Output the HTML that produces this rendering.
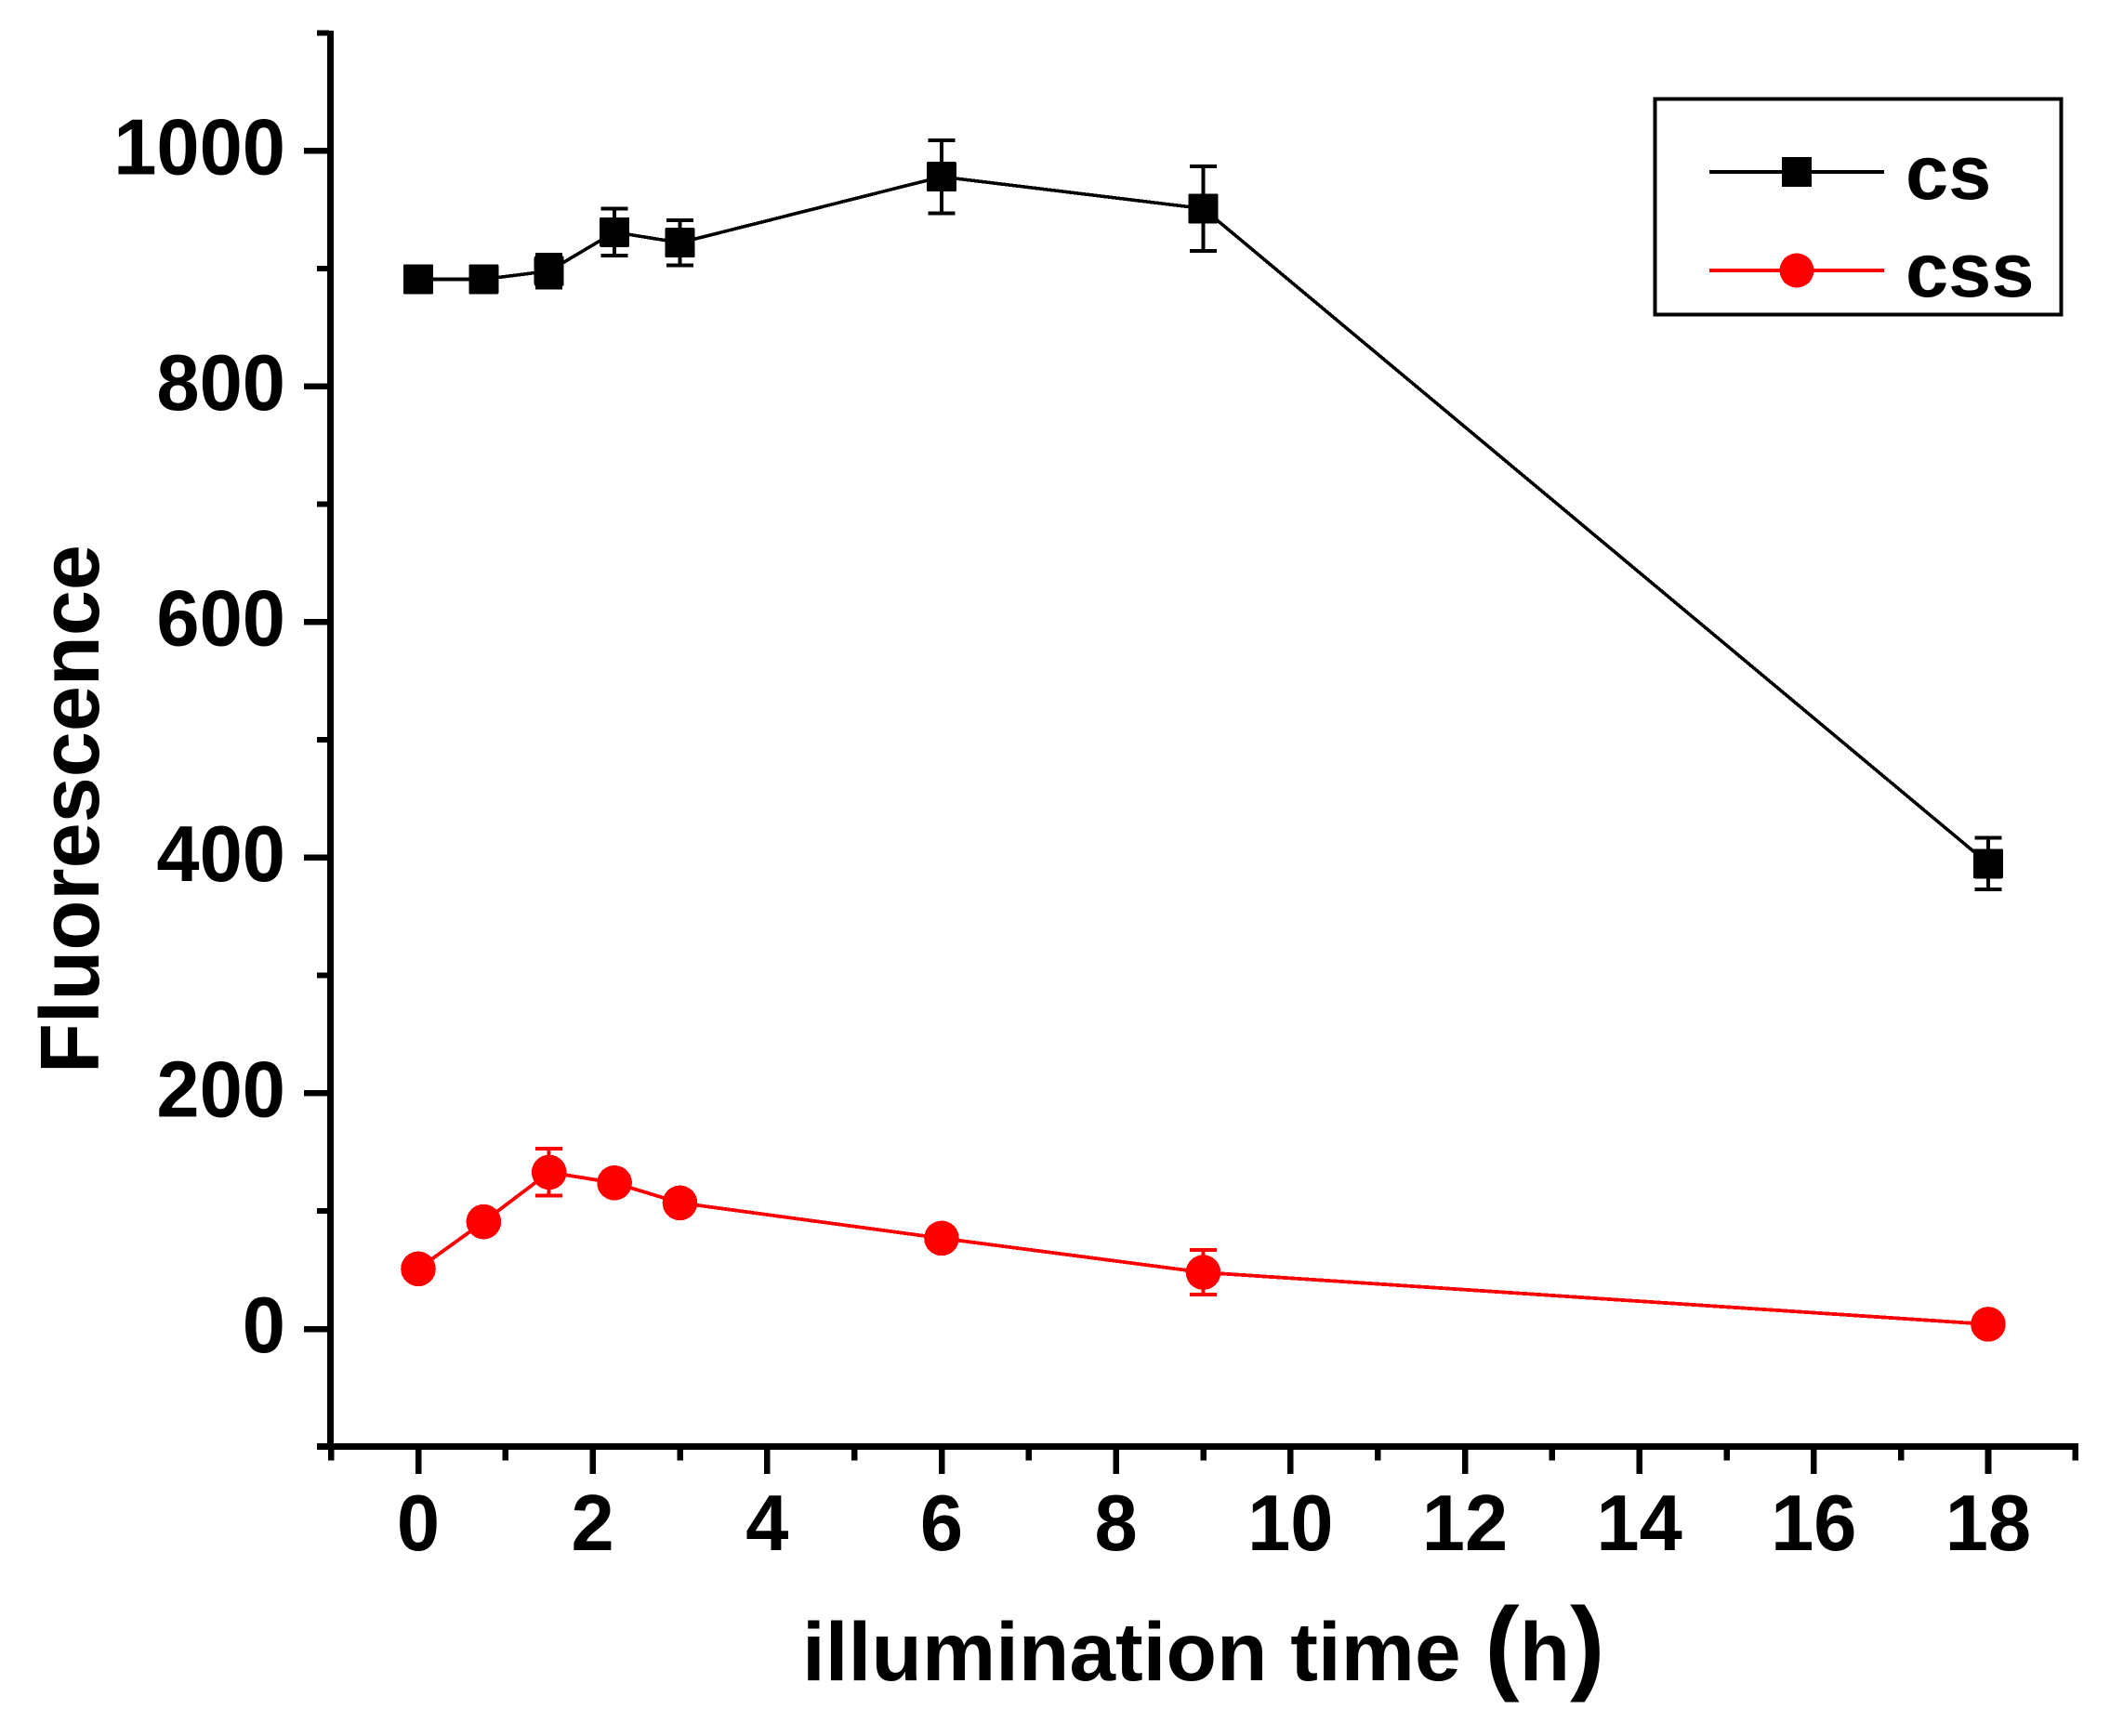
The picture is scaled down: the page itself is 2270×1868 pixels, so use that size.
<!DOCTYPE html>
<html lang="en">
<head>
<meta charset="utf-8">
<title>Fluorescence vs illumination time</title>
<style>
html,body{margin:0;padding:0;background:#fff;width:2270px;height:1868px;overflow:hidden}
svg{display:block;position:absolute;left:0;top:0}
text{font-family:"Liberation Sans",Arial,sans-serif;font-weight:bold;fill:#000}
</style>
</head>
<body>
<svg id="chart" xmlns="http://www.w3.org/2000/svg" width="2270" height="1868" viewBox="0 0 2270 1868" shape-rendering="crispEdges">
  <rect x="0" y="0" width="2270" height="1868" fill="#fff"/>
  <g id="axes"></g>
  <g id="series"></g>
  <text transform="translate(106,1155) rotate(-90)" font-size="90" textLength="569" lengthAdjust="spacingAndGlyphs">Fluorescence</text>
  <text x="863" y="1808" font-size="89.2">illumination time <tspan font-size="112" dx="1">(</tspan><tspan>h</tspan><tspan font-size="112">)</tspan></text>
  <g id="legend">
    <rect x="1780.5" y="106.5" width="437" height="232" fill="#fff" stroke="#000" stroke-width="4"/>
    <g>
      <line x1="1839" y1="185" x2="2027" y2="185" stroke="#000" stroke-width="3.6"/>
      <rect x="1917" y="169" width="32" height="32" fill="#000"/>
      <text x="2050" y="214" font-size="83">cs</text>
    </g>
    <g>
      <line x1="1839" y1="291" x2="2027" y2="291" stroke="#f00" stroke-width="4"/>
      <circle cx="1933" cy="291" r="18.5" fill="#f00"/>
      <text x="2050" y="319" font-size="83">css</text>
    </g>
  </g>
</svg>
<script>
var hours = [0, 0.75, 1.5, 2.25, 3, 6, 9, 18];
var csValues = [891, 891, 898, 931, 922, 978, 951, 395];
var csErrors = [0, 0, 14, 20, 19, 31, 36, 22];
var cssValues = [51, 91, 133, 124, 107, 77, 48, 4];
var cssErrors = [0, 0, 20, 0, 0, 0, 19, 0];
var xMajorTicks = [0, 2, 4, 6, 8, 10, 12, 14, 16, 18];
var xMinorTicks = [-1, 1, 3, 5, 7, 9, 11, 13, 15, 17, 19];
var yMajorTicks = [0, 200, 400, 600, 800, 1000];
var yMinorTicks = [-100, 100, 300, 500, 700, 900, 1100];

var NS = 'http://www.w3.org/2000/svg';
var DIGIT_WIDTH = 46.2;
function xPos(v){ return 450 + 93.83 * v; }
function yPos(v){ return 1430 - 1.2677 * v; }
function make(tag, parent){
  var el = document.createElementNS(NS, tag);
  parent.appendChild(el);
  return el;
}
function setAttrs(el, o){ for (var k in o) el.setAttribute(k, o[k]); return el; }

var axes = document.getElementById('axes');
var series = document.getElementById('series');

var yAxisLine = make('rect', axes);


setAttrs(yAxisLine, {x: 352, y: 33, width: 7, height: 1524, fill: '#000'});

var xAxisLine = make('rect', axes);


setAttrs(xAxisLine, {x: 341, y: 1553, width: 1895, height: 7, fill: '#000'});

yMajorTicks.forEach(function(v){
  var t = make('rect', axes);
  
  
  setAttrs(t, {x: 327, y: yPos(v) - 3.25, width: 27, height: 6.5, fill: '#000'});
  var l = make('text', axes);
  
  
  var s = String(v);
  setAttrs(l, {x: 307, y: yPos(v) + 25, 'font-size': 85, 'text-anchor': 'end', textLength: s.length * DIGIT_WIDTH, lengthAdjust: 'spacingAndGlyphs'});
  l.textContent = s;
});
yMinorTicks.forEach(function(v){
  var t = make('rect', axes);
  
  
  setAttrs(t, {x: 341, y: yPos(v) - 3, width: 13, height: 6, fill: '#000'});
});
xMajorTicks.forEach(function(v){
  var t = make('rect', axes);
  
  
  setAttrs(t, {x: xPos(v) - 3.2, y: 1557, width: 6.6, height: 29, fill: '#000'});
  var l = make('text', axes);
  
  
  var s = String(v);
  setAttrs(l, {x: xPos(v), y: 1668, 'font-size': 85, 'text-anchor': 'middle', textLength: s.length * DIGIT_WIDTH, lengthAdjust: 'spacingAndGlyphs'});
  l.textContent = s;
});
xMinorTicks.forEach(function(v){
  var t = make('rect', axes);
  
  
  setAttrs(t, {x: xPos(v) - 3.2, y: 1557, width: 6.6, height: 14.5, fill: '#000'});
});

function pointsFor(values){
  return hours.map(function(h, i){ return xPos(h) + ',' + yPos(values[i]); }).join(' ');
}

// cs series
var csLine = make('polyline', series);


setAttrs(csLine, {points: pointsFor(csValues), fill: 'none', stroke: '#000', 'stroke-width': 3.6});

// css series
var cssLine = make('polyline', series);


setAttrs(cssLine, {points: pointsFor(cssValues), fill: 'none', stroke: '#f00', 'stroke-width': 3.8});

hours.forEach(function(h, i){
  var x = xPos(h);
  var err = csErrors[i];
  if (err > 0) {
    var stem = make('line', series);
    
    
    setAttrs(stem, {x1: x, x2: x, y1: yPos(csValues[i] + err), y2: yPos(csValues[i] - err), stroke: '#000', 'stroke-width': 4});
    [1, -1].forEach(function(sign){
      var cap = make('line', series);
      
      
      var cy = yPos(csValues[i] + sign * err);
      setAttrs(cap, {x1: x - 14.5, x2: x + 14.5, y1: cy, y2: cy, stroke: '#000', 'stroke-width': 4});
    });
  }
  var m = make('rect', series);
  
  
  setAttrs(m, {x: x - 16, y: yPos(csValues[i]) - 16, width: 32, height: 32, rx: 1.5, fill: '#000'});
});

hours.forEach(function(h, i){
  var x = xPos(h);
  var err = cssErrors[i];
  if (err > 0) {
    var stem = make('line', series);
    
    
    setAttrs(stem, {x1: x, x2: x, y1: yPos(cssValues[i] + err), y2: yPos(cssValues[i] - err), stroke: '#f00', 'stroke-width': 4});
    [1, -1].forEach(function(sign){
      var cap = make('line', series);
      
      
      var cy = yPos(cssValues[i] + sign * err);
      setAttrs(cap, {x1: x - 14.5, x2: x + 14.5, y1: cy, y2: cy, stroke: '#f00', 'stroke-width': 4});
    });
  }
  var c = make('circle', series);
  
  
  setAttrs(c, {cx: x, cy: yPos(cssValues[i]), r: 18.8, fill: '#f00'});
});
</script>
</body>
</html>
